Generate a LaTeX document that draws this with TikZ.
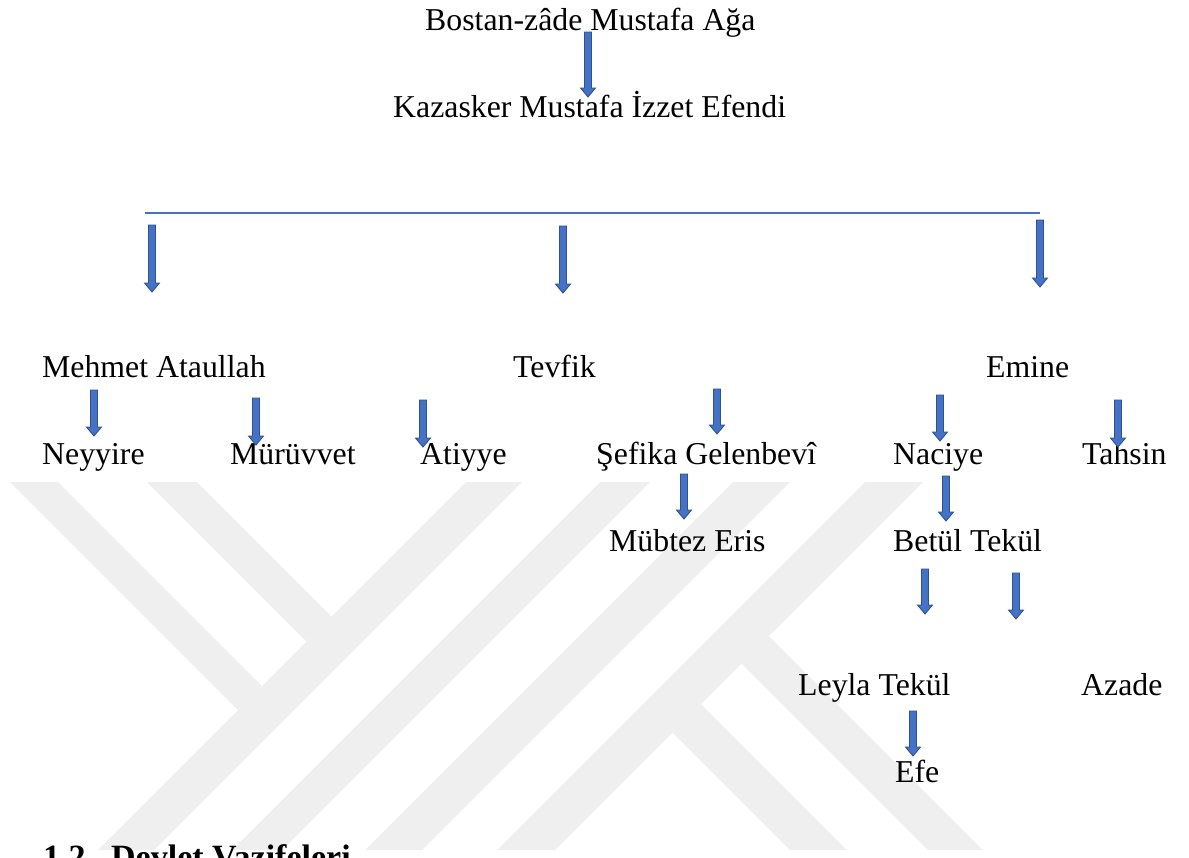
\documentclass[tikz,border=0pt]{standalone}
\usepackage{fontspec}
\setmainfont{Liberation Serif}
\usetikzlibrary{calc}
\definecolor{abl}{HTML}{4472C4}
\definecolor{abd}{HTML}{2F528F}
\definecolor{wm}{HTML}{EFEFEF}
\newcommand{\blkarrow}[2]{%
  \filldraw[arrowbody] ($(#1)+(-3.5,0)$) -- ($(#1)+(3.5,0)$) -- ($(#2)+(3.5,-9)$) -- ($(#2)+(7.5,-9)$) -- (#2) -- ($(#2)+(-7.5,-9)$) -- ($(#2)+(-3.5,-9)$) -- cycle;}
\begin{document}
\begin{tikzpicture}[x=1pt,y=-1pt,
  arrowbody/.style={fill=abl,draw=abd,line width=0.9pt,line join=miter},
  lbl/.style={anchor=base west,inner sep=0pt,font=\fontsize{31.8}{38}\selectfont},
  head/.style={anchor=base west,inner sep=0pt,font=\fontsize{34}{40}\selectfont\bfseries},
  wmark/.style={fill=wm,draw=none}]
\useasboundingbox (0,0) rectangle (1189,857);
\clip (0,0) rectangle (1189,857);
% watermark
\fill[wmark] (10,482) -- (58,482) -- (262,686) -- (238,710) -- cycle;
\fill[wmark] (147,482) -- (197,482) -- (331.5,616.5) -- (306.5,641.5) -- cycle;
\fill[wmark] (466,482) -- (522,482) -- (154,850) -- (98,850) -- cycle;
\fill[wmark] (600,482) -- (650,482) -- (282,850) -- (232,850) -- cycle;
\fill[wmark] (733,482) -- (790,482) -- (422,850) -- (365,850) -- cycle;
\fill[wmark] (865,482) -- (923,482) -- (555,850) -- (497,850) -- cycle;
\fill[wmark] (769,636) -- (983,850) -- (928,850) -- (741.5,663.5) -- cycle;
\fill[wmark] (701,704) -- (847,850) -- (790,850) -- (672.5,732.5) -- cycle;
% horizontal line
\coordinate (hl) at (145,213);
\coordinate (hr) at (1040,213);
\draw[abl,line width=2pt] (hl) -- (hr);
% texts
\node[lbl] (bostan) at (425,30.5) {Bostan-zâde Mustafa Ağa};
\node[lbl] (kazasker) at (393,117.5) {Kazasker Mustafa İzzet Efendi};
\node[lbl] (mehmet) at (42,377.5) {Mehmet Ataullah};
\node[lbl] (tevfik) at (513,377.5) {Tevfik};
\node[lbl] (emine) at (986,377.5) {Emine};
\node[lbl] (neyyire) at (42,464.5) {Neyyire};
\node[lbl] (muruvvet) at (230,464.5) {Mürüvvet};
\node[lbl] (atiyye) at (420,464.5) {Atiyye};
\node[lbl] (sefika) at (596,464.5) {Şefika Gelenbevî};
\node[lbl] (naciye) at (893,464.5) {Naciye};
\node[lbl] (tahsin) at (1082,464.5) {Tahsin};
\node[lbl] (mubtez) at (609,551.5) {Mübtez Eris};
\node[lbl] (betul) at (893,551.5) {Betül Tekül};
\node[lbl] (leyla) at (798,695) {Leyla Tekül};
\node[lbl] (azade) at (1081,695) {Azade};
\node[lbl] (efe) at (895,782) {Efe};
\node[head] (baslik) at (43,868) {1.2.\ \ Devlet Vazifeleri};
% arrows
\coordinate (s1) at (588,32);   \coordinate (e1) at (588,97);
\coordinate (s2) at (152,225);  \coordinate (e2) at (152,292);
\coordinate (s3) at (563,226);  \coordinate (e3) at (563,293);
\coordinate (s4) at (1040,220); \coordinate (e4) at (1040,287);
\coordinate (s5) at (94,390);   \coordinate (e5) at (94,436);
\coordinate (s6) at (256,398);  \coordinate (e6) at (256,445);
\coordinate (s7) at (423,400);  \coordinate (e7) at (423,447);
\coordinate (s8) at (717,389);  \coordinate (e8) at (717,434);
\coordinate (s9) at (940,395);  \coordinate (e9) at (940,441);
\coordinate (s10) at (1118,400); \coordinate (e10) at (1118,447);
\coordinate (s11) at (684,474); \coordinate (e11) at (684,519);
\coordinate (s12) at (946,476); \coordinate (e12) at (946,521);
\coordinate (s13) at (925,569); \coordinate (e13) at (925,614);
\coordinate (s14) at (1016,573); \coordinate (e14) at (1016,619);
\coordinate (s15) at (913,711); \coordinate (e15) at (913,756);
\foreach \i in {1,...,15} {\blkarrow{s\i}{e\i}}
\end{tikzpicture}
\end{document}
